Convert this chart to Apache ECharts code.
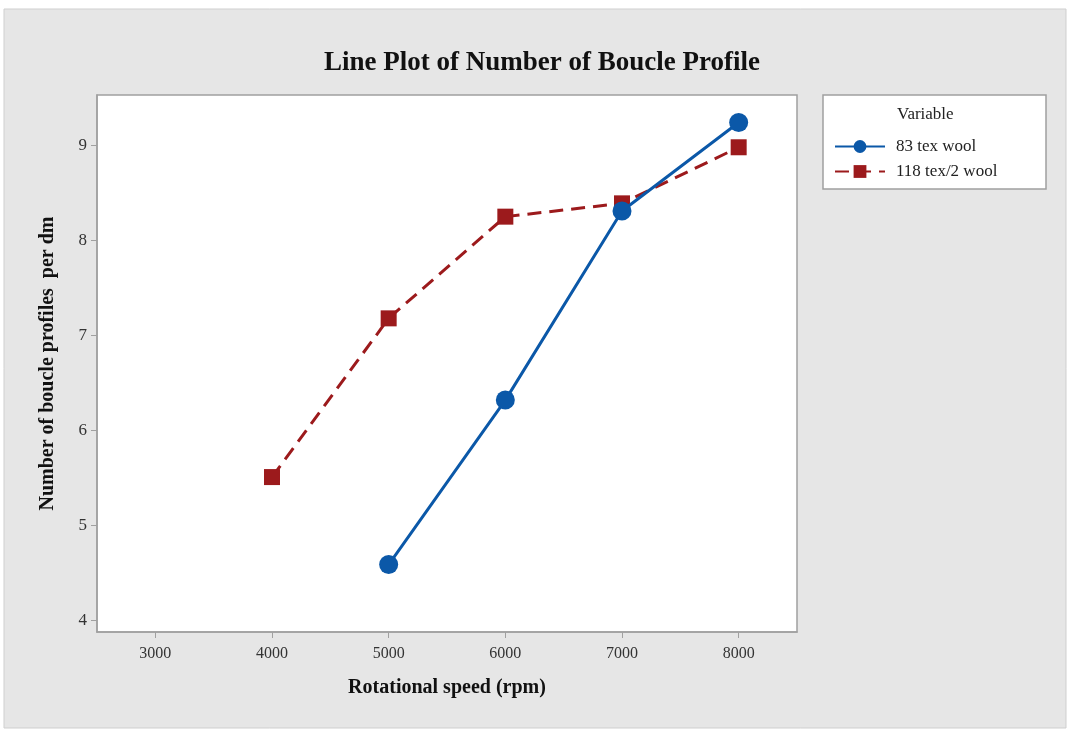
<!DOCTYPE html>
<html>
<head>
<meta charset="utf-8">
<script src="https://cdn.jsdelivr.net/npm/echarts@6/dist/echarts.min.js"></script>
<style>
html,body{margin:0;padding:0;background:#fff;}
#chart{width:1069px;height:730px;}
</style>
</head>
<body>
<div id="chart"></div>
<script>
const speeds = [4000, 5000, 6000, 7000, 8000];
const wool83 = [null, 4.59, 6.32, 8.31, 9.24];
const wool118 = [5.51, 7.18, 8.25, 8.39, 8.98];
const xTicks = [3000, 4000, 5000, 6000, 7000, 8000];
const yTicks = [4, 5, 6, 7, 8, 9];
const seriesNames = ['83 tex wool', '118 tex/2 wool'];

const font = 'Liberation Serif, Times New Roman, serif';
const chart = echarts.init(document.getElementById('chart'));
const pair = (xs, ys) => xs.map((x, i) => [x, ys[i]]).filter(p => p[1] !== null);

chart.setOption({
  animation: false,
  graphic: [
    { type: 'rect', z: -10, shape: { x: 4, y: 9, width: 1062, height: 719 },
      style: { fill: '#e6e6e6', stroke: '#cfcfcf', lineWidth: 1 } },
    { type: 'rect', z: 1, shape: { x: 823, y: 95, width: 223, height: 94 },
      style: { fill: '#ffffff', stroke: '#a0a0a0', lineWidth: 1.5 } },
    { type: 'text', z: 2, left: 897, top: 106,
      style: { text: 'Variable', font: '17px ' + font, fill: '#222' } }
  ],
  title: {
    text: 'Line Plot of Number of Boucle Profile',
    left: 537, top: 45, textAlign: 'center',
    textStyle: { fontFamily: font, fontSize: 27, fontWeight: 'bold', color: '#111' }
  },
  legend: {
    orient: 'vertical', left: 829, top: 133, itemGap: 8,
    itemWidth: 50, itemHeight: 16, z: 3,
    textStyle: { fontFamily: font, fontSize: 17, color: '#222', padding: [0, 0, 0, 6] },
    data: seriesNames
  },
  grid: { left: 97, top: 95, width: 700, height: 537, show: true,
    backgroundColor: '#fff', borderColor: '#a0a0a0', borderWidth: 1.5 },
  xAxis: {
    type: 'value', min: 2500, max: 8500,
    name: 'Rotational speed (rpm)', nameLocation: 'middle', nameGap: 46,
    nameTextStyle: { fontFamily: font, fontSize: 20, fontWeight: 'bold', color: '#111' },
    axisLine: { show: true, lineStyle: { color: '#a0a0a0', width: 1.5 } },
    axisTick: { show: true, length: 6, customValues: xTicks, lineStyle: { color: '#a0a0a0' } },
    axisLabel: { customValues: xTicks, margin: 14, fontFamily: font, fontSize: 16, color: '#333',
      formatter: v => String(v) },
    splitLine: { show: false }
  },
  yAxis: {
    type: 'value', min: 3.88, max: 9.53,
    name: 'Number of boucle profiles  per dm', nameLocation: 'middle', nameGap: 39,
    nameTextStyle: { fontFamily: font, fontSize: 20, fontWeight: 'bold', color: '#111' },
    axisLine: { show: true, lineStyle: { color: '#a0a0a0', width: 1.5 } },
    axisTick: { show: true, length: 6, customValues: yTicks, lineStyle: { color: '#a0a0a0' } },
    axisLabel: { customValues: yTicks, margin: 10, fontFamily: font, fontSize: 17, color: '#333' },
    splitLine: { show: false }
  },
  series: [
    { name: seriesNames[0], type: 'line', data: pair(speeds, wool83),
      symbol: 'circle', symbolSize: 19, z: 3,
      itemStyle: { color: '#0b58a8' }, lineStyle: { color: '#0b58a8', width: 3 } },
    { name: seriesNames[1], type: 'line', data: pair(speeds, wool118),
      symbol: 'rect', symbolSize: 16, z: 2,
      itemStyle: { color: '#9c1a1c' }, lineStyle: { color: '#9c1a1c', width: 3, type: [14, 8] } }
  ]
});
</script>
</body>
</html>
